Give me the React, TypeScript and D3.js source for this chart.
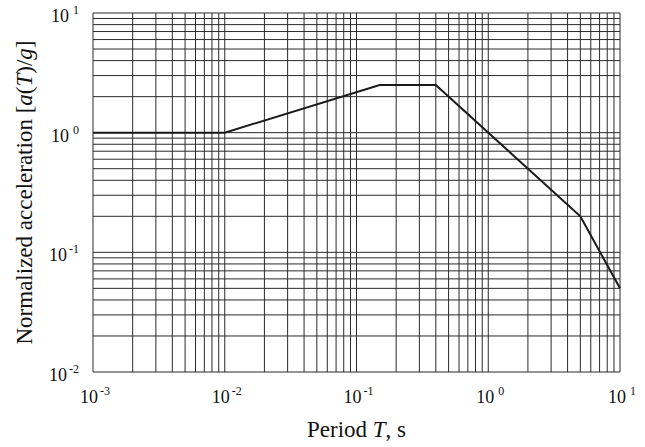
import React, { useEffect, useRef } from 'react';
import * as d3 from 'd3';

// Design spectrum corner points (period in s, normalized acceleration)
const periods = [0.001, 0.01, 0.15, 0.4, 5, 10];
const accels = [1.0, 1.0, 2.5, 2.5, 0.2, 0.05];

const xDecades = [-3, -2, -1, 0, 1];
const yDecades = [-2, -1, 0, 1];

const W = 645;
const H = 447;
const margin = { left: 93, right: 25, top: 13, bottom: 75 };

const App = () => {
    const ref = useRef<SVGSVGElement>(null);

    useEffect(() => {
        const svg = d3.select(ref.current);
        svg.selectAll('*').remove();

        const x = d3.scaleLog().domain([1e-3, 1e1]).range([margin.left, W - margin.right]);
        const y = d3.scaleLog().domain([1e-2, 1e1]).range([H - margin.bottom, margin.top]);

        // minor + major grid values
        const gridVals = (decs: number[]) => {
            const out: number[] = [];
            for (let i = 0; i < decs.length - 1; i++) {
                for (let m = 1; m <= 9; m++) out.push(m * Math.pow(10, decs[i]));
            }
            out.push(Math.pow(10, decs[decs.length - 1]));
            return out;
        };

        const grid = svg.append('g').attr('stroke', '#2a2a2a').attr('stroke-width', 1);
        grid.selectAll('.vx')
            .data(gridVals(xDecades))
            .join('line')
            .attr('x1', d => x(d)).attr('x2', d => x(d))
            .attr('y1', y.range()[1]).attr('y2', y.range()[0]);
        grid.selectAll('.hy')
            .data(gridVals(yDecades))
            .join('line')
            .attr('y1', d => y(d)).attr('y2', d => y(d))
            .attr('x1', x.range()[0]).attr('x2', x.range()[1]);

        const line = d3.line<number>()
            .x((_, i) => x(periods[i]))
            .y(d => y(d));

        svg.append('path')
            .datum(accels)
            .attr('d', line)
            .attr('fill', 'none')
            .attr('stroke', '#1a1a1a')
            .attr('stroke-width', 2)
            .attr('stroke-linejoin', 'miter');

        const font = "'Liberation Serif', 'Times New Roman', serif";

        // x tick labels
        const xt = svg.selectAll('.xt')
            .data(xDecades)
            .join('text')
            .attr('x', d => x(Math.pow(10, d)) + 2)
            .attr('y', 403)
            .attr('text-anchor', 'middle')
            .attr('font-family', font)
            .attr('font-size', 18)
            .attr('fill', '#111');
        xt.append('tspan').text('10');
        xt.append('tspan')
            .attr('dx', d => (d < 0 ? 2 : 4))
            .attr('dy', -8)
            .attr('font-size', 12)
            .text(d => String(d));

        // y tick labels
        const yt = svg.selectAll('.yt')
            .data(yDecades)
            .join('text')
            .attr('x', 79)
            .attr('y', d => y(Math.pow(10, d)) + 9)
            .attr('text-anchor', 'end')
            .attr('font-family', font)
            .attr('font-size', 18)
            .attr('fill', '#111');
        yt.append('tspan').text('10');
        yt.append('tspan')
            .attr('dx', d => (d < 0 ? 2 : 4))
            .attr('dy', -8)
            .attr('font-size', 12)
            .text(d => String(d));

        // axis titles
        const xl = svg.append('text')
            .attr('x', (x.range()[0] + x.range()[1]) / 2)
            .attr('y', 437)
            .attr('text-anchor', 'middle')
            .attr('font-family', font)
            .attr('font-size', 23)
            .attr('fill', '#111');
        xl.append('tspan').text('Period ');
        xl.append('tspan').attr('font-style', 'italic').text('T');
        xl.append('tspan').text(', s');

        const cy = (y.range()[0] + y.range()[1]) / 2;
        const yl = svg.append('text')
            .attr('transform', `translate(32,${cy}) rotate(-90)`)
            .attr('text-anchor', 'middle')
            .attr('font-family', font)
            .attr('font-size', 23)
            .attr('fill', '#111');
        yl.append('tspan').text('Normalized acceleration [');
        yl.append('tspan').attr('font-style', 'italic').text('a');
        yl.append('tspan').text('(');
        yl.append('tspan').attr('font-style', 'italic').text('T');
        yl.append('tspan').text(')/');
        yl.append('tspan').attr('font-style', 'italic').text('g');
        yl.append('tspan').text(']');
    }, []);

    return (
        <svg
            ref={ref}
            width={W}
            height={H}
            style={{ position: 'absolute', left: 0, top: 0, background: '#fff' }}
        />
    );
};

export default App;
